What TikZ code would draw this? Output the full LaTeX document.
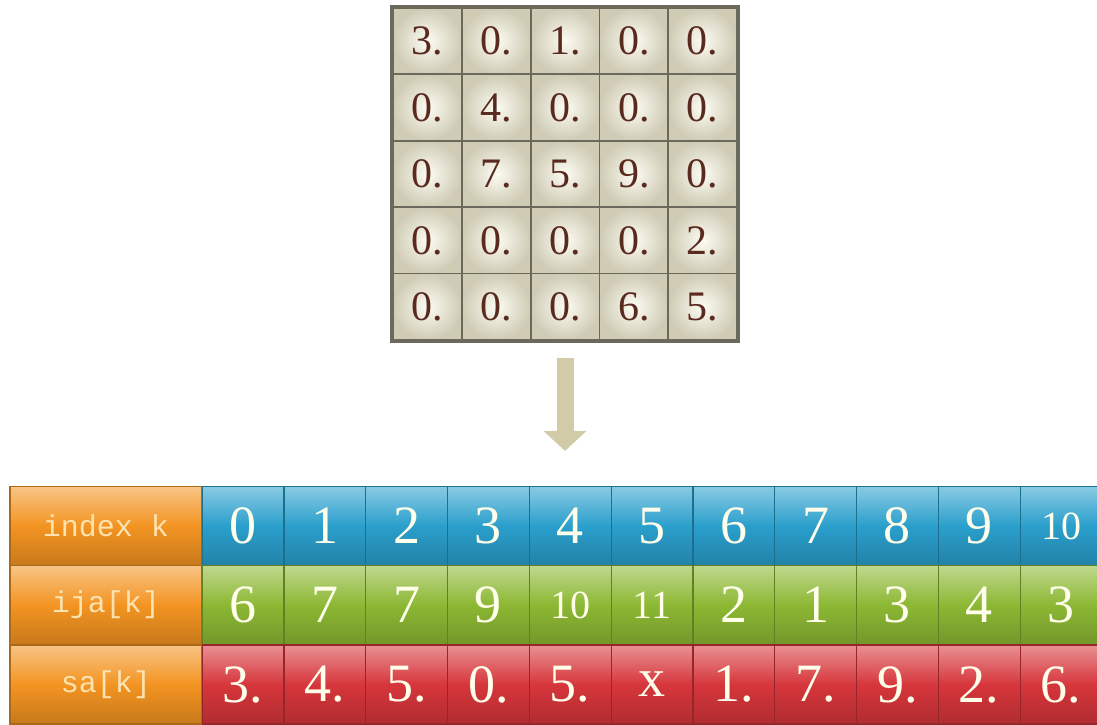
\documentclass[tikz,border=0pt]{standalone}
\usepackage{fontspec}
\setmainfont{Liberation Serif}
\newfontfamily\labelfont{Liberation Mono}
\usetikzlibrary{positioning,arrows.meta}

\definecolor{cream}{HTML}{FDFCF3}
\definecolor{khaki}{HTML}{CFCBB5}
\definecolor{framegray}{HTML}{6B685C}
\definecolor{brownink}{HTML}{5A2A1E}
\definecolor{arrowkhaki}{HTML}{D2CBA8}
\definecolor{orangebox}{HTML}{F39422}
\definecolor{bluebox}{HTML}{2A9FCC}
\definecolor{greenbox}{HTML}{8CB833}
\definecolor{redbox}{HTML}{D6363B}
\definecolor{labeltext}{HTML}{FDE3B0}

\newcommand\tenfont{\fontsize{40}{42}\selectfont}

\tikzset{
  mcell/.style={draw=framegray, line width=1.8pt, inner color=cream, outer color=khaki,
    minimum width=68.8pt, minimum height=66.4pt, inner sep=0pt, text=brownink,
    font=\fontsize{42}{44}\selectfont},
  tcell/.style={draw=#1!70!black, line width=1.2pt, top color=#1!55!white,
    bottom color=#1!82!black, middle color=#1,
    minimum width=81.8pt, minimum height=79pt, inner sep=0pt, text=white!92!yellow,
    font=\fontsize{54}{56}\selectfont},
  rowname/.style={tcell=orangebox, minimum width=192pt, text=labeltext,
    font=\labelfont\fontsize{30}{32}\selectfont},
  bigarrow/.style={line width=17pt, draw=arrowkhaki, -{Triangle[width=42pt,length=20pt]}}
}

\begin{document}
\begin{tikzpicture}[x=1pt,y=1pt]
 \useasboundingbox (0,0) rectangle (1097,724);
 \clip (0,0) rectangle (1097,724);
 % sparse matrix
 \node[fill=framegray, minimum width=350pt, minimum height=338pt] (mat) at (565,550) {};
 \foreach \row [count=\r] in {{3.,0.,1.,0.,0.},{0.,4.,0.,0.,0.},{0.,7.,5.,9.,0.},{0.,0.,0.,0.,2.},{0.,0.,0.,6.,5.}}{
    \foreach \v [count=\c] in \row{
    \node[mcell] (m-\r-\c) at (393+68.8*\c-34.4, 716-66.4*\r+33.2) {\v};
    }
 }
 % row names
 \node[rowname] (lab-k) at (106,198) {index k};
 \node[rowname] (lab-ija) at (106,119) {ija[k]};
 \node[rowname] (lab-sa) at (106,39.5) {sa[k]};
 % storage rows
 \foreach \v [count=\i from 0] in {0,1,2,3,4,5,6,7,8,9,\tenfont 10}
    \node[tcell=bluebox] (k\i) at (243+81.8*\i,198) {\v};
 \foreach \v [count=\i from 0] in {6,7,7,9,\tenfont 10,\tenfont 11,2,1,3,4,3}
    \node[tcell=greenbox] (j\i) at (243+81.8*\i,119) {\v};
 \foreach \v [count=\i from 0] in {3.,4.,5.,0.,5.,x,1.,7.,9.,2.,6.}
    \node[tcell=redbox] (s\i) at (243+81.8*\i,39.5) {\v};
 % arrow
 \coordinate (tip) at (mat.south |- k4.north);
 \draw[bigarrow] ([yshift=-15pt]mat.south) -- ([yshift=35pt]tip);
\end{tikzpicture}
\end{document}
